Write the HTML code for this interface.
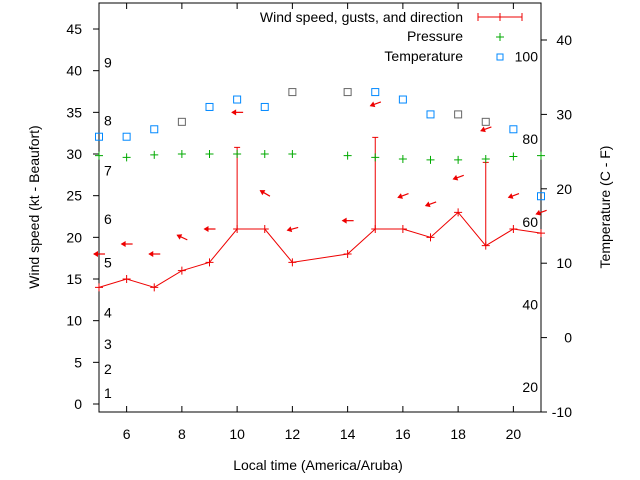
<!DOCTYPE html>
<html><head><meta charset="utf-8">
<style>
body{margin:0;background:#fff;}
svg{display:block;font-family:"Liberation Sans",sans-serif;}
</style></head>
<body>
<svg id="chart" width="640" height="480" viewBox="0 0 640 480" xmlns="http://www.w3.org/2000/svg">
<g id="axes"></g>
<g id="marks"></g>
<text x="318" y="470" font-size="14" text-anchor="middle">Local time (America/Aruba)</text>
<text transform="translate(39,207) rotate(-90)" font-size="14" text-anchor="middle">Wind speed (kt - Beaufort)</text>
<text transform="translate(610,207) rotate(-90)" font-size="14" text-anchor="middle">Temperature (C - F)</text>
<g font-size="14">
<text x="463" y="22" text-anchor="end">Wind speed, gusts, and direction</text>
<line x1="478" y1="17" x2="522" y2="17" stroke="#e00" stroke-width="1"/>
<line x1="478" y1="13" x2="478" y2="21" stroke="#e00"/><line x1="522" y1="13" x2="522" y2="21" stroke="#e00"/><line x1="500" y1="13" x2="500" y2="21" stroke="#e00"/>
<text x="463" y="41" text-anchor="end">Pressure</text>
<path d="M496,37h8M500,33v8" stroke="#0a0"/>
<text x="463" y="61" text-anchor="end">Temperature</text>
<rect x="497" y="54" width="6" height="6" fill="none" stroke="#08f"/>
</g>
</svg>
<script>
const hours=[5,6,7,8,9,10,11,12,14,15,16,17,18,19,20,21];
const windSpeed=[14,15,14,16,17,21,21,17,18,21,21,20,23,19,21,20.5];
const gustHours=[10,15,19];
const gustSpeed=[30.8,32,29];
const arrowLevel=[18,19.2,18,20,21,35,25.3,21,22,36,25,24,27.2,33,25,23];
const arrowAngle=[0,0,0,-25,0,0,-30,15,0,20,20,20,20,20,20,20];
const pressure=[29.8,29.6,29.9,30,30,30,30,30,29.8,29.6,29.4,29.3,29.3,29.4,29.7,29.8];
const tempC=[27,27,28,29,31,32,31,33,33,33,32,30,30,29,28,19];
const tempGray=[0,0,0,1,0,0,0,1,1,0,0,0,1,1,0,0];
const xTicks=[6,8,10,12,14,16,18,20];
const yLeftTicks=[0,5,10,15,20,25,30,35,40,45];
const yRightTicks=[-10,0,10,20,30,40];
const fLabels=[100,80,60,40,20];
const beaufortLabels=['1','2','3','4','5','6','7','8','9'];
const beaufortY=[1.3,4.2,7.2,11,17,22.2,28,34,41];

const X=h=>99+(h-5)*(442/16);
const YL=v=>404-v*8.333;
const YR=t=>412-(t+10)*7.44;
const NS='http://www.w3.org/2000/svg';
function mk(tag,attrs,parent,txt){const e=document.createElementNS(NS,tag);for(const k in attrs)e.setAttribute(k,attrs[k]);if(txt!==undefined)e.textContent=txt;parent.appendChild(e);return e;}
const ax=document.getElementById('axes'),mg=document.getElementById('marks');

let fr=mk('rect',{x:99,y:3,width:442,height:409,fill:'none',stroke:'#000','stroke-width':1},ax);


xTicks.forEach(h=>{
  mk('line',{x1:X(h),y1:412,x2:X(h),y2:406,stroke:'#000'},ax);
  mk('line',{x1:X(h),y1:3,x2:X(h),y2:9,stroke:'#000'},ax);
  let t=mk('text',{x:X(h),y:439,'font-size':14,'text-anchor':'middle'},ax,String(h));
  
  
});
yLeftTicks.forEach(v=>{
  mk('line',{x1:93,y1:YL(v),x2:99,y2:YL(v),stroke:'#000'},ax);
  let t=mk('text',{x:82,y:YL(v)+5,'font-size':14,'text-anchor':'end'},ax,String(v));
  
  
});
yRightTicks.forEach(v=>{
  mk('line',{x1:541,y1:YR(v),x2:547,y2:YR(v),stroke:'#000'},ax);
  let t=mk('text',{x:572,y:YR(v)+5,'font-size':14,'text-anchor':'end'},ax,String(v));
  
  
});
fLabels.forEach(f=>{
  const c=(f-32)*5/9;
  let t=mk('text',{x:538,y:YR(c)+5,'font-size':14,'text-anchor':'end'},ax,String(f));
  
  
});
beaufortLabels.forEach((b,i)=>{
  let t=mk('text',{x:104,y:YL(beaufortY[i])+5,'font-size':14},ax,b);
  
  
});

// wind line
let pts=hours.map((h,i)=>X(h)+','+YL(windSpeed[i])).join(' ');
let wl=mk('polyline',{points:pts,fill:'none',stroke:'#e00','stroke-width':1},mg);


hours.forEach((h,i)=>{
  let p=mk('path',{d:`M${X(h)-4},${YL(windSpeed[i])}h8M${X(h)},${YL(windSpeed[i])-4}v8`,stroke:'#e00'},mg);
  
  
});
gustHours.forEach((h,i)=>{
  const w=windSpeed[hours.indexOf(h)];
  let g=mk('path',{d:`M${X(h)},${YL(w)}V${YL(gustSpeed[i])}M${X(h)-3},${YL(gustSpeed[i])}h6`,stroke:'#e00',fill:'none'},mg);
  
  
});
hours.forEach((h,i)=>{
  const cx=X(h),cy=YL(arrowLevel[i]);
  let g=mk('g',{transform:`translate(${cx},${cy}) rotate(${-arrowAngle[i]})`},mg);
  
  
  mk('line',{x1:-5,y1:0,x2:6,y2:0,stroke:'#e00','stroke-width':1.2},g);
  mk('polygon',{points:'-6,0 -1,-3 -1,3',fill:'#e00'},g);
});
hours.forEach((h,i)=>{
  let p=mk('path',{d:`M${X(h)-4},${YL(pressure[i])}h8M${X(h)},${YL(pressure[i])-4}v8`,stroke:'#0a0'},mg);
  
  
});
hours.forEach((h,i)=>{
  let r=mk('rect',{x:X(h)-3.5,y:YR(tempC[i])-3.5,width:7,height:7,fill:'none',stroke:tempGray[i]?'#666':'#08f'},mg);
  
  
});
</script>
</body></html>
